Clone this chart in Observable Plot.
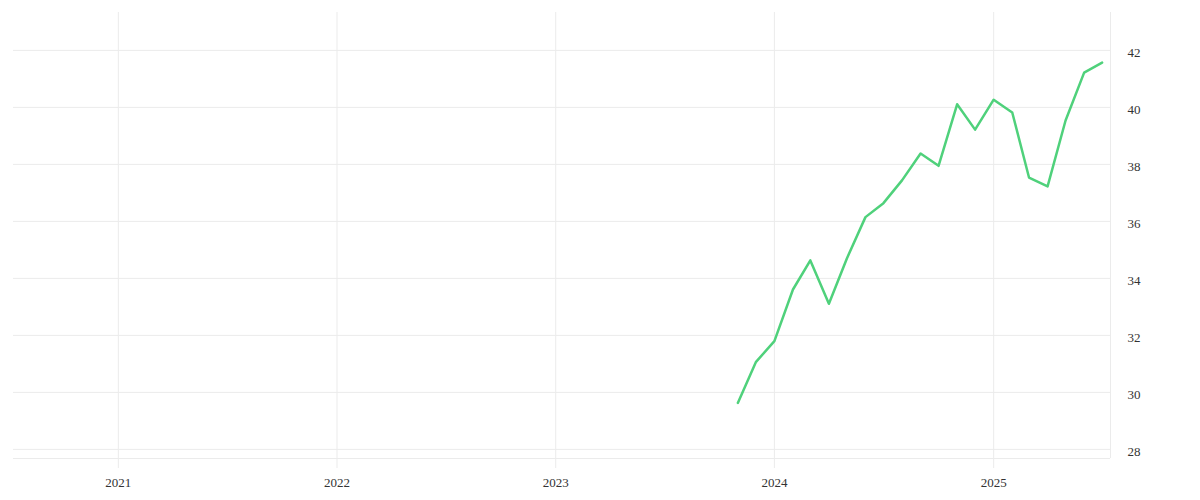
<!DOCTYPE html>
<html><head><meta charset="utf-8">
<script src="https://cdn.jsdelivr.net/npm/d3@7"></script>
<script src="https://cdn.jsdelivr.net/npm/@observablehq/plot@0.6"></script>
<style>body{margin:0;background:#fff;} svg{font-family:"Liberation Serif",serif;}</style>
</head><body><div id="chart"></div>
<script>
const months = ["2023-11","2023-12","2024-01","2024-02","2024-03","2024-04","2024-05","2024-06","2024-07","2024-08","2024-09","2024-10","2024-11","2024-12","2025-01","2025-02","2025-03","2025-04","2025-05","2025-06","2025-07"];
const values = [29.63,31.06,31.8,33.61,34.63,33.11,34.7,36.15,36.64,37.44,38.38,37.95,40.11,39.22,40.27,39.82,37.54,37.23,39.54,41.22,41.57];
const yTicks = [28,30,32,34,36,38,40,42];
const xTicks = ["2021-01-01","2022-01-01","2023-01-01","2024-01-01","2025-01-01"];
const xDomain = ["2020-07-10","2025-07-15"];
const yDomain = [27.68, 43.33];

const toDate = d => new Date(d + "T00:00:00Z");
const data = months.map((m,i)=>({date:toDate(m+"-01"), value:values[i]}));
const chart = Plot.plot({
  width:1200, height:500,
  marginLeft:13, marginRight:90, marginTop:12, marginBottom:42,
  style:{fontFamily:"Liberation Serif, serif", fontSize:"13px", color:"#333", background:"#fff"},
  x:{type:"utc", domain:xDomain.map(toDate), label:null},
  y:{domain:yDomain, label:null},
  marks:[
    Plot.gridY(yTicks,{stroke:"#ebebeb", strokeOpacity:1}),
    Plot.gridX(xTicks.map(toDate),{stroke:"#ebebeb", strokeOpacity:1, y1:yDomain[0], y2:yDomain[1]}),
    Plot.axisX(xTicks.map(toDate),{tickSize:10, stroke:"#ebebeb", tickFormat:d3.utcFormat("%Y"), tickPadding:9, fill:"#333", fontSize:13, label:null}),
    Plot.axisY(yTicks,{anchor:"right", tickSize:0, tickPadding:17, textAnchor:"start", fill:"#333", fontSize:13, dy:2.5, label:null}),
    Plot.ruleY([yDomain[0]],{stroke:"#ebebeb"}),
    Plot.ruleX([toDate(xDomain[1])],{stroke:"#ebebeb"}),
    Plot.line(data,{x:"date", y:"value", stroke:"#4fd17b", strokeWidth:2.5})
  ]
});
document.getElementById("chart").append(chart);
</script></body></html>
